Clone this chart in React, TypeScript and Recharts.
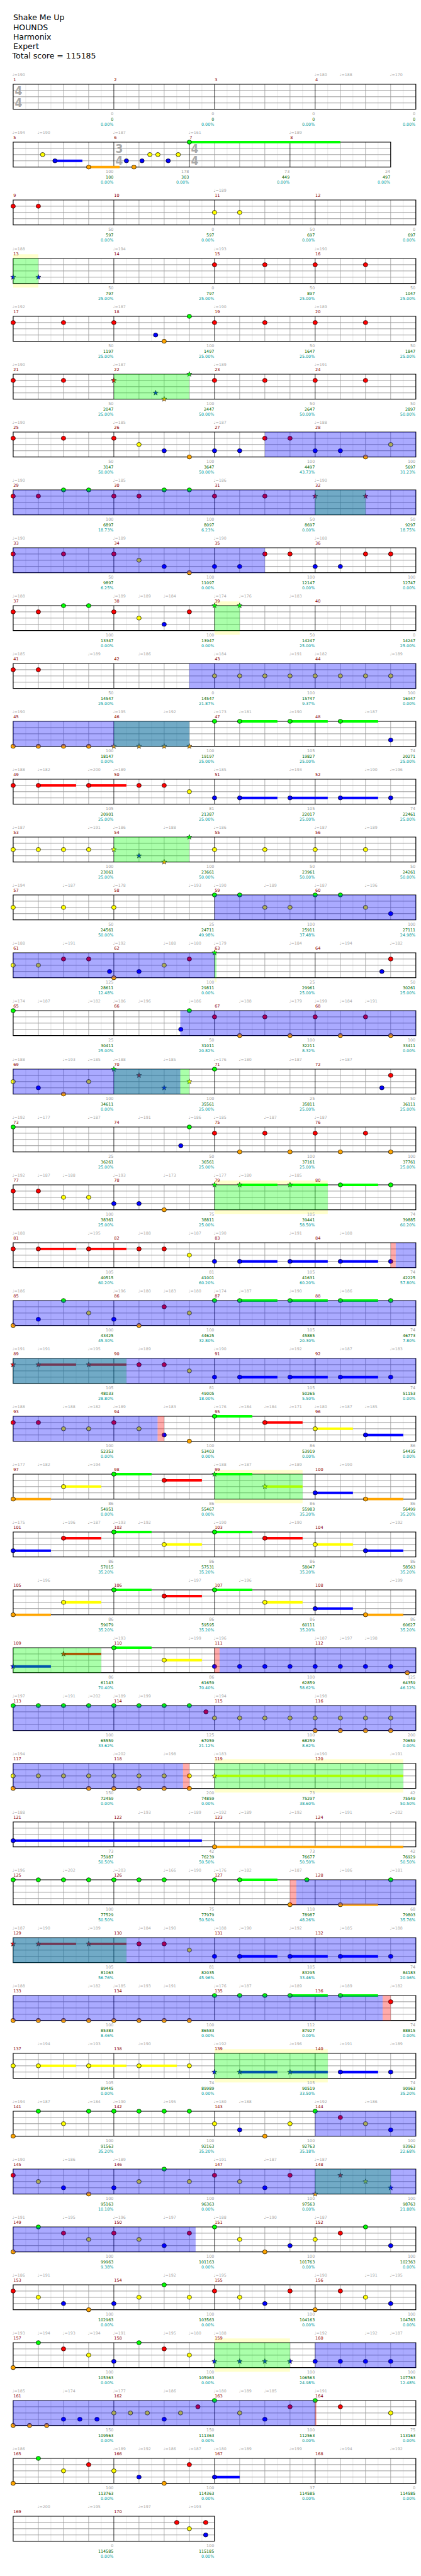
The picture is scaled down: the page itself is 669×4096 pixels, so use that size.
import React from 'react';
import { ScatterChart, Scatter, XAxis, YAxis, ReferenceLine, ReferenceArea } from 'recharts';

// ---------------- DATA ----------------
const titleLines = ['Shake Me Up', 'HOUNDS', 'Harmonix', 'Expert'];
const totalScore = 115185;

const MEASURE_COUNT = 170;
const MEASURES_PER_ROW = 4;
// [measure, beats per measure, beat unit]
const timeSignatures: [number, number, number][] = [[1, 4, 4], [6, 3, 4], [7, 4, 4]];

// lanes: 0 green, 1 red, 2 yellow, 3 blue, 4 orange
const laneColors = ['#00ff00', '#ff0000', '#ffff00', '#0000ff', '#ffa500'];

// [row, beat in row, bpm]
const tempoMarks: [number, number, number][] = [
  [0, 0, 190], [0, 12, 180], [0, 13, 188], [0, 15, 170],
  [1, 0, 194], [1, 1, 190], [1, 4, 187], [1, 7, 161], [1, 11, 189],
  [2, 8, 189],
  [3, 0, 188], [3, 4, 194], [3, 8, 193], [3, 12, 190],
  [4, 0, 192], [4, 4, 187], [4, 8, 190], [4, 12, 189],
  [5, 0, 190], [5, 4, 187], [5, 8, 189], [5, 12, 191],
  [6, 0, 190], [6, 4, 185], [6, 8, 187], [6, 12, 188],
  [7, 0, 190], [7, 4, 185], [7, 8, 186], [7, 12, 190],
  [8, 0, 190], [8, 4, 189], [8, 8, 190], [8, 12, 188],
  [9, 0, 188], [9, 4, 189], [9, 5, 189], [9, 6, 184], [9, 8, 174], [9, 9, 176], [9, 11, 183],
  [10, 0, 185], [10, 3, 189], [10, 5, 186], [10, 8, 184], [10, 11, 191], [10, 12, 182], [10, 15, 189],
  [11, 0, 190], [11, 4, 195], [11, 6, 192], [11, 8, 173], [11, 9, 181], [11, 11, 190], [11, 14, 187],
  [12, 0, 188], [12, 1, 182], [12, 3, 200], [12, 4, 189], [12, 8, 185], [12, 11, 193], [12, 14, 190], [12, 15, 196],
  [13, 0, 187], [13, 3, 191], [13, 4, 186], [13, 6, 188], [13, 8, 186], [13, 12, 187], [13, 14, 189],
  [14, 0, 194], [14, 2, 187], [14, 4, 178], [14, 7, 193], [14, 8, 190], [14, 10, 189], [14, 12, 187], [14, 14, 196],
  [15, 0, 188], [15, 2, 191], [15, 4, 192], [15, 6, 188], [15, 7, 180], [15, 8, 179], [15, 11, 184], [15, 13, 194], [15, 15, 182],
  [16, 0, 174], [16, 1, 187], [16, 3, 182], [16, 4, 186], [16, 5, 196], [16, 7, 186], [16, 9, 188], [16, 11, 179], [16, 12, 199], [16, 13, 184], [16, 14, 191],
  [17, 0, 188], [17, 2, 193], [17, 3, 185], [17, 4, 188], [17, 6, 185], [17, 8, 176], [17, 9, 180], [17, 11, 187], [17, 13, 187],
  [18, 0, 192], [18, 1, 177], [18, 3, 187], [18, 5, 191], [18, 7, 186], [18, 8, 185], [18, 10, 187], [18, 12, 187],
  [19, 0, 192], [19, 1, 187], [19, 2, 188], [19, 4, 193], [19, 6, 173], [19, 8, 177], [19, 9, 180], [19, 11, 185],
  [20, 0, 188], [20, 3, 195], [20, 5, 188], [20, 7, 187], [20, 8, 190], [20, 11, 191], [20, 13, 188],
  [21, 0, 186], [21, 4, 196], [21, 5, 180], [21, 6, 183], [21, 7, 180], [21, 8, 174], [21, 9, 187], [21, 11, 190], [21, 13, 186],
  [22, 0, 191], [22, 1, 191], [22, 3, 195], [22, 5, 189], [22, 8, 190], [22, 11, 192], [22, 13, 187], [22, 15, 183],
  [23, 0, 188], [23, 2, 188], [23, 3, 182], [23, 4, 189], [23, 6, 183], [23, 8, 176], [23, 9, 184], [23, 10, 184], [23, 11, 171], [23, 12, 180], [23, 13, 187], [23, 14, 185],
  [24, 0, 177], [24, 1, 182], [24, 3, 194], [24, 8, 188], [24, 9, 187], [24, 11, 189], [24, 13, 190],
  [25, 0, 175], [25, 2, 196], [25, 3, 187], [25, 4, 193], [25, 5, 192], [25, 8, 190], [25, 11, 190], [25, 15, 192],
  [26, 1, 196], [26, 7, 197], [26, 9, 196], [26, 15, 199],
  [27, 4, 193], [27, 7, 199], [27, 8, 196], [27, 12, 187], [27, 13, 197], [27, 14, 198],
  [28, 0, 197], [28, 2, 191], [28, 3, 202], [28, 4, 189], [28, 5, 199], [28, 8, 194], [28, 12, 198],
  [29, 0, 194], [29, 4, 202], [29, 6, 198], [29, 8, 183], [29, 12, 190], [29, 15, 191],
  [30, 0, 188], [30, 5, 193], [30, 7, 189], [30, 8, 192], [30, 9, 189], [30, 11, 192], [30, 13, 191], [30, 15, 202],
  [31, 0, 196], [31, 2, 202], [31, 4, 203], [31, 6, 166], [31, 7, 190], [31, 8, 176], [31, 9, 182], [31, 11, 187], [31, 13, 186], [31, 15, 181],
  [32, 0, 187], [32, 1, 190], [32, 3, 189], [32, 5, 184], [32, 6, 190], [32, 8, 188], [32, 9, 190], [32, 11, 192], [32, 13, 185], [32, 15, 188],
  [33, 0, 188], [33, 3, 182], [33, 4, 185], [33, 5, 193], [33, 6, 191], [33, 8, 176], [33, 9, 187], [33, 11, 189], [33, 13, 189], [33, 15, 182],
  [34, 1, 194], [34, 3, 193], [34, 5, 190], [34, 8, 192], [34, 11, 196], [34, 13, 191], [34, 15, 189],
  [35, 0, 194], [35, 1, 187], [35, 3, 184], [35, 4, 190], [35, 6, 195], [35, 8, 180], [35, 9, 188], [35, 12, 192], [35, 14, 186],
  [36, 0, 190], [36, 2, 186], [36, 4, 189], [36, 8, 191], [36, 10, 187], [36, 12, 187],
  [37, 0, 191], [37, 2, 195], [37, 4, 196], [37, 6, 197], [37, 8, 188], [37, 10, 190], [37, 12, 187],
  [38, 0, 186], [38, 1, 191], [38, 6, 192], [38, 8, 195], [38, 12, 190], [38, 14, 191], [38, 15, 195],
  [39, 0, 193], [39, 1, 194], [39, 2, 193], [39, 3, 194], [39, 4, 191], [39, 6, 195], [39, 7, 180], [39, 8, 188], [39, 12, 192], [39, 14, 192], [39, 15, 187],
  [40, 0, 185], [40, 2, 174], [40, 4, 177], [40, 6, 186], [40, 8, 180], [40, 9, 189], [40, 10, 185], [40, 12, 191],
  [41, 0, 186], [41, 4, 189], [41, 5, 192], [41, 6, 186], [41, 7, 187], [41, 8, 180], [41, 9, 189], [41, 11, 199], [41, 13, 194], [41, 15, 192],
  [42, 1, 200], [42, 3, 195], [42, 5, 197], [42, 7, 193],
];

// [row, beat in row, lane, sustain end beat (optional)]
const notes: number[][] = [
  [1, 1.17, 2], [1, 1.66, 3, 2.75], [1, 3, 4, 4.23], [1, 4.5, 3], [1, 4.8, 4], [1, 5.12, 3], [1, 5.43, 2], [1, 5.75, 2], [1, 6.16, 3], [1, 6.56, 2], [1, 7, 0, 13],
  [2, 0, 1], [2, 1, 1], [2, 8, 2], [2, 9, 2],
  [3, 0, 3], [3, 1, 3], [3, 8, 1], [3, 10, 1], [3, 12, 1], [3, 14, 1],
  [4, 0, 1], [4, 2, 1], [4, 4, 1], [4, 5.66, 3], [4, 6, 4], [4, 7, 0], [4, 8, 1], [4, 10, 1], [4, 12, 1], [4, 14, 1],
  [5, 0, 1], [5, 2, 1], [5, 4, 1], [5, 5.66, 3], [5, 6, 4], [5, 7, 0], [5, 8, 1], [5, 10, 1], [5, 12, 1], [5, 14, 1],
  [6, 0, 1], [6, 2, 1], [6, 4, 1], [6, 5, 2], [6, 6, 3], [6, 7, 4], [6, 8, 3], [6, 9, 3], [6, 10, 1], [6, 11, 1], [6, 12, 3], [6, 13, 3], [6, 14, 4], [6, 15, 2],
  [7, 0, 1], [7, 1, 1], [7, 2, 0], [7, 3, 0], [7, 4, 1], [7, 5, 1], [7, 6, 0], [7, 7, 0], [7, 8, 1], [7, 10, 1], [7, 12, 1], [7, 14, 1],
  [8, 0, 1], [8, 2, 1], [8, 4, 1], [8, 5, 2], [8, 6, 3], [8, 7, 4], [8, 8, 3], [8, 9, 3], [8, 10, 1], [8, 11, 1], [8, 12, 3], [8, 13, 3], [8, 14, 1], [8, 15, 1],
  [9, 0, 1], [9, 1, 1], [9, 2, 0], [9, 3, 0], [9, 4, 1], [9, 5, 2], [9, 6, 3], [9, 7, 1], [9, 8, 0], [9, 9, 0],
  [10, 0, 1], [10, 1, 1], [10, 8, 2], [10, 9, 2], [10, 10, 2], [10, 11, 2], [10, 12, 2], [10, 13, 2], [10, 14, 2], [10, 15, 2],
  [11, 0, 4], [11, 1, 4], [11, 2, 4], [11, 3, 4], [11, 4, 4], [11, 5, 4], [11, 6, 4], [11, 7, 4], [11, 8, 0], [11, 9, 0, 10.5], [11, 11, 0, 12.5], [11, 13, 0, 14.5], [11, 15, 3],
  [12, 0, 1], [12, 1, 1, 2.5], [12, 3, 1, 4.5], [12, 5, 1], [12, 6, 1], [12, 7, 2], [12, 8, 3], [12, 9, 3, 10.5], [12, 11, 3, 12.5], [12, 13, 3, 14.5], [12, 15, 3],
  [13, 0, 2], [13, 1, 2], [13, 2, 2], [13, 3, 2], [13, 4, 2], [13, 5, 3], [13, 6, 4], [13, 7, 0], [13, 8, 2], [13, 10, 2], [13, 12, 2], [13, 14, 2],
  [14, 0, 2], [14, 2, 2], [14, 4, 2], [14, 8, 0], [14, 9, 0], [14, 10, 2], [14, 11, 2], [14, 12, 0], [14, 13, 0], [14, 14, 2], [14, 15, 3],
  [15, 0, 2], [15, 1, 2], [15, 2, 1], [15, 3, 1], [15, 3.83, 3], [15, 4, 4], [15, 5, 3], [15, 6, 2], [15, 7, 1], [15, 8, 0], [15, 14.65, 3], [15, 15, 1],
  [16, 0, 0], [16, 6.66, 3], [16, 7, 0], [16, 8, 1], [16, 9, 4], [16, 10, 1], [16, 11, 4], [16, 12, 1], [16, 13, 4], [16, 14, 1], [16, 15, 4],
  [17, 0, 2], [17, 1, 3], [17, 2, 4], [17, 3, 2], [17, 4, 0], [17, 5, 1], [17, 6, 3], [17, 7, 2], [17, 8, 0], [17, 14.65, 3], [17, 15, 1],
  [18, 0, 0], [18, 6.66, 3], [18, 7, 0], [18, 8, 1], [18, 9, 4], [18, 10, 1], [18, 11, 4], [18, 12, 1], [18, 13, 4], [18, 14, 1], [18, 15, 4],
  [19, 0, 1], [19, 1, 1], [19, 2, 2], [19, 3, 2], [19, 4, 3], [19, 5, 3], [19, 6, 4], [19, 8, 0], [19, 9, 0, 10.5], [19, 11, 0, 12.5], [19, 13, 0, 14.5], [19, 15, 0],
  [20, 0, 1], [20, 1, 1, 2.5], [20, 3, 1, 4.5], [20, 5, 1], [20, 6, 1], [20, 7, 2], [20, 8, 3], [20, 9, 3, 10.5], [20, 11, 3, 12.5], [20, 13, 3, 14.5], [20, 15, 3],
  [21, 0, 4], [21, 1, 3], [21, 2, 0], [21, 3, 2], [21, 4, 3], [21, 5, 4], [21, 6, 1], [21, 7, 2], [21, 8, 0], [21, 9, 0, 10.5], [21, 11, 0, 12.5], [21, 13, 0, 14.5], [21, 15, 0],
  [22, 0, 1], [22, 1, 1, 2.5], [22, 3, 1, 4.5], [22, 5, 1], [22, 6, 1], [22, 7, 2], [22, 8, 3], [22, 9, 3, 10.5], [22, 11, 3, 12.5], [22, 13, 3, 14.5], [22, 15, 3],
  [23, 0, 1], [23, 1, 1], [23, 2, 2], [23, 3, 2], [23, 4, 1], [23, 5, 2], [23, 6, 3], [23, 7, 4], [23, 8, 0, 9.5], [23, 10, 1, 11.5], [23, 12, 2, 13.5], [23, 14, 3, 15.5],
  [24, 0, 4, 1.5], [24, 2, 2, 3.5], [24, 4, 0, 5.5], [24, 6, 1, 7.5], [24, 8, 0, 9.5], [24, 10, 2, 11.5], [24, 12, 3, 13.5], [24, 14, 4, 15.5],
  [25, 0, 3, 1.5], [25, 2, 1, 3.5], [25, 4, 0, 5.5], [25, 6, 2, 7.5], [25, 8, 0, 9.5], [25, 10, 1, 11.5], [25, 12, 2, 13.5], [25, 14, 3, 15.5],
  [26, 0, 4, 1.5], [26, 2, 2, 3.5], [26, 4, 0, 5.5], [26, 6, 1, 7.5], [26, 8, 0, 9.5], [26, 10, 2, 11.5], [26, 12, 3, 13.5], [26, 14, 4, 15.5],
  [27, 0, 3, 1.5], [27, 2, 1, 3.5], [27, 4, 0, 5.5], [27, 6, 2, 7.5], [27, 8, 3], [27, 9, 3], [27, 10, 3], [27, 11, 3], [27, 12, 3], [27, 13, 3], [27, 14, 3], [27, 15, 3], [27, 15.66, 4],
  [28, 0, 0], [28, 1, 0], [28, 2, 0], [28, 3, 0], [28, 4, 0], [28, 5, 0], [28, 6, 0], [28, 7, 0], [28, 7.66, 1],
  [28, 8, 2], [28, 9, 2], [28, 10, 2], [28, 11, 2], [28, 12, 2], [28, 13, 2], [28, 14, 2], [28, 15, 2], [28, 12, 4], [28, 13, 4], [28, 14, 4], [28, 15, 4],
  [29, 0, 2], [29, 1, 2], [29, 2, 2], [29, 3, 2], [29, 4, 2], [29, 5, 2], [29, 6, 2], [29, 7, 2],
  [29, 0, 4], [29, 3, 4], [29, 4, 4], [29, 5, 4], [29, 6, 4], [29, 7, 4], [29, 8, 2, 15.5],
  [30, 0, 3, 7.5], [30, 8, 4, 15.5],
  [31, 0, 0], [31, 1, 0], [31, 2, 0], [31, 3, 0], [31, 4, 0], [31, 5, 0], [31, 6, 0], [31, 8, 0], [31, 9, 0, 10.5], [31, 11, 4], [31, 11.67, 0], [31, 13, 4, 14.5], [31, 15, 0],
  [32, 0, 1], [32, 1, 1, 2.5], [32, 3, 1, 4.5], [32, 5, 1], [32, 6, 1], [32, 7, 2], [32, 8, 3], [32, 9, 3, 10.5], [32, 11, 3, 12.5], [32, 13, 3, 14.5], [32, 15, 3],
  [33, 0, 4], [33, 1, 4], [33, 2, 4], [33, 3, 4], [33, 4, 4], [33, 5, 4], [33, 6, 4], [33, 7, 4], [33, 8, 0], [33, 9, 0], [33, 10, 0], [33, 11, 0, 12.5], [33, 13, 0, 14.5], [33, 15, 1],
  [34, 0, 2], [34, 1, 2, 2.5], [34, 3, 2, 4.5], [34, 5, 2, 6.5], [34, 7, 2], [34, 8, 3], [34, 9, 3, 10.5], [34, 11, 3, 12.5], [34, 13, 3, 14.5], [34, 15, 3],
  [35, 0, 4], [35, 1, 0], [35, 2, 2], [35, 3, 0], [35, 4, 0], [35, 5, 0], [35, 6, 0], [35, 7, 0], [35, 8, 2], [35, 9, 3], [35, 10, 4], [35, 11, 2], [35, 12, 0], [35, 13, 1], [35, 14, 2], [35, 15, 3],
  [36, 0, 1], [36, 1, 2], [36, 2, 3], [36, 3, 4], [36, 4, 3], [36, 5, 2], [36, 6, 0], [36, 7, 2], [36, 8, 1], [36, 9, 2], [36, 10, 3], [36, 11, 1], [36, 12, 4], [36, 13, 1], [36, 14, 2], [36, 15, 3],
  [37, 0, 4], [37, 1, 0], [37, 2, 1], [37, 3, 2], [37, 4, 1], [37, 5, 2], [37, 6, 3], [37, 7, 1], [37, 8, 0], [37, 9, 2], [37, 10, 4], [37, 11, 3], [37, 12, 2], [37, 13, 1], [37, 14, 0], [37, 15, 3],
  [38, 0, 1], [38, 1, 2], [38, 2, 3], [38, 3, 4], [38, 4, 3], [38, 5, 2], [38, 6, 0], [38, 7, 2], [38, 8, 1], [38, 9, 2], [38, 10, 3], [38, 11, 1], [38, 12, 4], [38, 13, 1], [38, 14, 2], [38, 15, 3],
  [39, 0, 4], [39, 1, 0], [39, 2, 1], [39, 3, 2], [39, 4, 3], [39, 5, 0], [39, 6, 1], [39, 7, 2], [39, 8, 3], [39, 9, 3], [39, 10, 3], [39, 11, 3], [39, 12, 3], [39, 13, 3], [39, 14, 3], [39, 15, 3],
  [40, 0, 4], [40, 0.65, 4], [40, 1.33, 4], [40, 2, 3], [40, 2.65, 3], [40, 3.33, 3], [40, 4, 2], [40, 4.66, 2], [40, 5.33, 2], [40, 6, 3], [40, 6.65, 2], [40, 7.34, 1], [40, 8, 0], [40, 9, 2], [40, 10, 3], [40, 11, 1], [40, 12, 0], [40, 13, 1], [40, 15, 2],
  [41, 0, 4], [41, 1, 0], [41, 2, 2], [41, 3, 1], [41, 4, 2], [41, 5, 3], [41, 6, 4], [41, 7, 1], [41, 8, 3, 9],
  [42, 6.5, 1], [42, 7, 2], [42, 7.65, 1], [42, 7.65, 3],
];

// star power phrases: [row, start beat, end beat, highlighted band]
const starPhrases: [number, number, number, number][] = [
  [3, 0, 1, 1], [5, 4, 7, 0], [7, 12, 14, 0], [9, 8, 9, 1], [11, 4, 7, 0], [13, 4, 7, 0], [15, 8, 8.08, 1],
  [17, 4, 7, 0], [19, 8, 12.5, 1], [22, 0, 4.5, 0], [24, 8, 11.5, 1], [27, 0, 3.5, 0], [29, 8, 15.5, 1],
  [32, 0, 4.5, 0], [34, 8, 12.5, 1], [36, 12, 15, 0], [39, 8, 11, 1],
];

// overdrive zones: [row, start beat, end beat]
const overdriveZones: [number, number, number][] = [
  [6, 10, 16], [7, 0, 16], [8, 0, 10], [10, 7, 16], [11, 0, 7], [14, 8, 16], [15, 0, 8], [16, 6.64, 16],
  [17, 0, 6.64], [20, 15.2, 16], [21, 0, 16], [22, 0, 16], [23, 0, 5.74], [27, 8.2, 16], [28, 0, 16],
  [29, 0, 6.75], [31, 11.25, 16], [32, 0, 16], [33, 0, 14.68], [35, 12, 16], [36, 0, 16], [37, 0, 7.25],
  [39, 12, 16], [40, 0, 12],
];

// activation / gap zones: [row, start beat, end beat]
const gapZones: [number, number, number][] = [
  [20, 15, 15.2], [23, 5.74, 6], [27, 8, 8.2], [29, 6.75, 7], [31, 11, 11.25], [33, 14.68, 15], [40, 12, 12.05],
];

const measureGain: number[] = [
  0, 0, 0, 0, 100, 178, 73, 24, 50, 0, 50, 0, 50, 0, 50, 50,
  50, 100, 50, 50, 50, 100, 50, 50, 50, 100, 100, 100, 100, 100, 50, 50,
  50, 100, 100, 100, 100, 100, 50, 0, 50, 0, 100, 100, 100, 100, 105, 74,
  105, 81, 105, 74, 100, 100, 50, 50, 50, 25, 100, 100, 125, 100, 25, 50,
  25, 50, 100, 100, 100, 100, 25, 50, 25, 50, 100, 100, 100, 75, 105, 74,
  105, 81, 105, 74, 100, 100, 105, 74, 105, 81, 105, 74, 100, 100, 86, 86,
  86, 86, 86, 86, 86, 86, 86, 86, 86, 86, 86, 86, 86, 86, 100, 125,
  100, 125, 100, 200, 150, 200, 73, 42, 73, 42, 73, 42, 100, 75, 118, 68,
  105, 81, 105, 74, 100, 100, 112, 74, 105, 74, 105, 74, 100, 100, 100, 100,
  100, 100, 100, 100, 100, 100, 100, 100, 100, 100, 100, 100, 100, 100, 100, 100,
  150, 150, 100, 75, 100, 100, 37, 0, 0, 100,
];

const measureTotal: number[] = [
  0, 0, 0, 0, 100, 303, 449, 497, 597, 597, 697, 697, 797, 797, 897, 1047,
  1197, 1497, 1647, 1847, 2047, 2447, 2647, 2897, 3147, 3647, 4497, 5697, 6897, 8097, 8697, 9297,
  9897, 11097, 12147, 12747, 13347, 13947, 14247, 14247, 14547, 14547, 15747, 16947, 18147, 19197, 19827, 20271,
  20901, 21387, 22017, 22461, 23061, 23661, 23961, 24261, 24561, 24711, 25911, 27111, 28611, 29811, 29961, 30261,
  30411, 31011, 32211, 33411, 34611, 35561, 35811, 36111, 36261, 36561, 37161, 37761, 38361, 38811, 39441, 39885,
  40515, 41001, 41631, 42225, 43425, 44625, 45885, 46773, 48033, 49005, 50265, 51153, 52353, 53403, 53919, 54435,
  54951, 55467, 55983, 56499, 57015, 57531, 58047, 58563, 59079, 59595, 60111, 60627, 61143, 61659, 62859, 64359,
  65559, 67059, 68259, 70659, 72459, 74859, 75297, 75549, 75987, 76239, 76677, 76929, 77529, 77979, 78987, 79803,
  81063, 82035, 83295, 84183, 85383, 86583, 87927, 88815, 89445, 89989, 90519, 90963, 91563, 92163, 92763, 93963,
  95163, 96363, 97563, 98763, 99963, 101163, 101763, 102363, 102963, 103563, 104163, 104763, 105363, 105963, 106563, 107763,
  109563, 111363, 112563, 113163, 113763, 114363, 114585, 114585, 114585, 115185,
];

const measurePct: number[] = [
  0, 0, 0, 0, 0, 0, 0, 0, 0, 0, 0, 0, 25, 25, 25, 25,
  25, 25, 25, 25, 25, 50, 50, 50, 50, 50, 43.73, 31.23, 18.73, 6.23, 0, 18.75,
  6.25, 0, 0, 0, 0, 0, 25, 25, 25, 21.87, 9.37, 0, 0, 25, 25, 25,
  25, 25, 25, 25, 25, 50, 50, 50, 50, 49.98, 37.48, 24.98, 12.48, 0, 25, 25,
  25, 20.82, 8.32, 0, 0, 25, 25, 25, 25, 25, 25, 25, 25, 25, 58.5, 60.2,
  60.2, 60.2, 60.2, 57.8, 45.3, 32.8, 20.3, 7.8, 28.8, 18, 5.5, 0, 0, 0, 0, 0,
  0, 0, 35.2, 35.2, 35.2, 35.2, 35.2, 35.2, 35.2, 35.2, 35.2, 35.2, 70.4, 70.4, 58.62, 46.12,
  33.62, 21.12, 8.62, 0, 0, 0, 38.6, 50.5, 50.5, 50.5, 50.5, 50.5, 50.5, 50.5, 48.26, 35.76,
  56.76, 45.96, 33.46, 20.96, 8.46, 0, 0, 0, 0, 0, 33.5, 35.2, 35.2, 35.2, 35.18, 22.68,
  10.18, 0, 0, 21.88, 9.38, 0, 0, 0, 0, 0, 0, 0, 0, 0, 24.98, 12.48,
  0, 0, 0, 0, 0, 0, 0, 0, 0, 0,
];

// ---------------- LAYOUT (styling) ----------------
const S = 0.653;
const FONT = '"DejaVu Sans", Verdana, sans-serif';
const PPB = 61.25 * S; // pixels per beat
const STAFF_LEFT = 32 * S;
const STAFF_H = 60.7 * S;
const ROW_TOP0 = 205.7 * S;
const ROW_PITCH = 141 * S;
const MT = 24;
const MB = 34;
const MR = 12;

const measureBeats = Array.from({ length: MEASURE_COUNT }, (_, i) => {
  let b = 4;
  for (const [m, n] of timeSignatures) if (m <= i + 1) b = n;
  return b;
});

const rowCount = Math.ceil(MEASURE_COUNT / MEASURES_PER_ROW);
const rowsInfo = Array.from({ length: rowCount }, (_, r) => {
  const ms: { m: number; start: number; len: number }[] = [];
  let beat = 0;
  for (let m = r * MEASURES_PER_ROW + 1; m <= Math.min((r + 1) * MEASURES_PER_ROW, MEASURE_COUNT); m++) {
    ms.push({ m, start: beat, len: measureBeats[m - 1] });
    beat += measureBeats[m - 1];
  }
  return { ms, beats: beat };
});

const starPoints = (cx: number, cy: number, R: number, r: number) => {
  const pts: string[] = [];
  for (let i = 0; i < 10; i++) {
    const a = -Math.PI / 2 + (i * Math.PI) / 5;
    const rad = i % 2 === 0 ? R : r;
    pts.push(`${(cx + rad * Math.cos(a)).toFixed(2)},${(cy + rad * Math.sin(a)).toFixed(2)}`);
  }
  return pts.join(' ');
};

const NoteShape = (p: any) => {
  const { cx, cy, payload } = p;
  const fill = laneColors[payload.lane];
  if (payload.star) {
    return <polygon points={starPoints(cx, cy, 4.3, 1.8)} fill={fill} stroke="#1a1a1a" strokeWidth={0.6} />;
  }
  return <ellipse cx={cx} cy={cy} rx={3.5} ry={3.3} fill={fill} stroke="#000" strokeWidth={0.7} />;
};

const MeasureLabel = (p: any) => (
  <text x={p.cx + 0.3} y={p.cy - 4.7} fontSize={6.6} fill="#8b0000" fontFamily={FONT}>
    {p.payload.label}
  </text>
);

const TempoLabel = (p: any) => (
  <text x={p.cx - 1.3} y={p.cy - 13.3} fontSize={6.3} fill="#a8a8a8" fontFamily={FONT}>
    {'\u2669=' + p.payload.bpm}
  </text>
);

const ScoreLabel = (p: any) => (
  <g fontFamily={FONT} fontSize={6.4} textAnchor="end">
    <text x={p.cx - 0.6} y={p.cy + 9.6} fill="#a0a0a0">{p.payload.gain}</text>
    <text x={p.cx - 0.6} y={p.cy + 18.3} fill="#006400">{p.payload.total}</text>
    <text x={p.cx - 0.6} y={p.cy + 26.8} fill="#009999">{p.payload.pct.toFixed(2) + '%'}</text>
  </g>
);

const TimeSigLabel = (p: any) => (
  <g fontFamily='"DejaVu Sans Condensed", "DejaVu Sans", sans-serif' fontSize={19} fontWeight="bold" fill="#aaaaaa">
    <text x={p.cx + 2.6} y={p.cy + 17.4}>{p.payload.num}</text>
    <text x={p.cx + 2.6} y={p.cy + 36.4}>{p.payload.den}</text>
  </g>
);

function StaffRow({ r }: { r: number }) {
  const info = rowsInfo[r];
  const beats = info.beats;
  const width = STAFF_LEFT + beats * PPB + MR;
  const height = MT + STAFF_H + MB;

  const eighthLines: number[] = [];
  const beatLines: number[] = [];
  const measureLines: number[] = [];
  info.ms.forEach(({ start, len }) => {
    for (let k = 0; k < len; k++) {
      eighthLines.push(start + k + 0.5);
      if (k > 0) beatLines.push(start + k);
    }
    if (start > 0) measureLines.push(start);
  });

  const phrases = starPhrases.filter((p) => p[0] === r);
  const rowNotes = notes
    .filter((n) => n[0] === r)
    .map((n) => ({
      x: n[1],
      y: n[2],
      lane: n[2],
      end: n[3],
      star: phrases.some((p) => n[1] >= p[1] - 0.02 && n[1] <= p[2] + 0.02),
    }));
  const sustains = rowNotes.filter((n) => n.end !== undefined);
  const odz = overdriveZones.filter((z) => z[0] === r);
  const gaps = gapZones.filter((z) => z[0] === r);

  const measureData = info.ms.map(({ m, start }) => ({ x: start, y: 0, label: m }));
  const tempoData = tempoMarks.filter((t) => t[0] === r).map((t) => ({ x: t[1], y: 0, bpm: t[2] }));
  const scoreData = info.ms.map(({ m, start, len }) => ({
    x: start + len,
    y: 4,
    gain: measureGain[m - 1],
    total: measureTotal[m - 1],
    pct: measurePct[m - 1],
  }));
  const tsData = info.ms
    .filter(({ m }) => timeSignatures.some((t) => t[0] === m))
    .map(({ m, start }) => {
      const t = timeSignatures.find((q) => q[0] === m)!;
      return { x: start, y: 0, num: t[1], den: t[2] };
    });

  return (
    <div style={{ position: 'absolute', left: 0, top: ROW_TOP0 + r * ROW_PITCH - MT }}>
      <ScatterChart width={width} height={height} margin={{ top: MT, right: MR, bottom: MB, left: STAFF_LEFT }}>
        <XAxis type="number" dataKey="x" domain={[0, beats]} hide />
        <YAxis type="number" dataKey="y" domain={[0, 4]} reversed hide />
        {phrases.filter((p) => p[3] === 1).map((p, i) => (
          <ReferenceArea key={'band' + i} x1={p[1]} x2={p[2]} y1={-0.68} y2={4.68} fill="#ffffcc" fillOpacity={1} stroke="none" ifOverflow="visible" zIndex={10} />
        ))}
        <ReferenceArea x1={0} x2={beats} y1={0} y2={4} fill="#ffffff" fillOpacity={1} stroke="none" ifOverflow="visible" zIndex={20} />
        {eighthLines.map((x) => (
          <ReferenceLine key={'e' + x} x={x} stroke="#dedede" strokeWidth={0.7} zIndex={30} />
        ))}
        {beatLines.map((x) => (
          <ReferenceLine key={'b' + x} x={x} stroke="#9a9a9a" strokeWidth={0.8} zIndex={40} />
        ))}
        {[1, 2, 3].map((y) => (
          <ReferenceLine key={'l' + y} y={y} stroke="#9a9a9a" strokeWidth={1} zIndex={50} />
        ))}
        {measureLines.map((x) => (
          <ReferenceLine key={'m' + x} x={x} stroke="#000000" strokeWidth={0.8} zIndex={60} />
        ))}
        <ReferenceArea x1={0} x2={beats} y1={0} y2={4} fill="none" fillOpacity={0} stroke="#000000" strokeWidth={1.2} ifOverflow="visible" zIndex={70} />
        {sustains.map((n, i) => (
          <ReferenceLine
            key={'s' + i}
            segment={[{ x: n.x, y: n.y }, { x: n.end as number, y: n.y }]}
            stroke={laneColors[n.lane]}
            strokeWidth={3.9}
            ifOverflow="visible"
            zIndex={80}
          />
        ))}
        <Scatter data={rowNotes} shape={NoteShape} isAnimationActive={false} zIndex={90} />
        {phrases.map((p, i) => (
          <ReferenceArea key={'sp' + i} x1={p[1]} x2={p[2]} y1={0} y2={4} fill="#00ff00" fillOpacity={0.333} stroke="none" ifOverflow="visible" zIndex={100} />
        ))}
        {odz.map((z, i) => (
          <ReferenceArea key={'od' + i} x1={z[1]} x2={z[2]} y1={0} y2={4} fill="#0000ff" fillOpacity={0.333} stroke="none" ifOverflow="visible" zIndex={110} />
        ))}
        {gaps.map((z, i) => (
          <ReferenceArea key={'gp' + i} x1={z[1]} x2={z[2]} y1={0} y2={4} fill="#ff0000" fillOpacity={0.333} stroke="none" ifOverflow="visible" zIndex={120} />
        ))}
        <Scatter data={tsData} shape={TimeSigLabel} isAnimationActive={false} zIndex={130} />
        <Scatter data={measureData} shape={MeasureLabel} isAnimationActive={false} zIndex={140} />
        <Scatter data={tempoData} shape={TempoLabel} isAnimationActive={false} zIndex={140} />
        <Scatter data={scoreData} shape={ScoreLabel} isAnimationActive={false} zIndex={140} />
      </ScatterChart>
    </div>
  );
}

export default function App() {
  const lineY = [32.2, 47.5, 62.7, 77.9];
  return (
    <div style={{ position: 'absolute', left: 0, top: 0, width: 669, height: 4096, background: '#ffffff' }}>
      <svg width={669} height={110} style={{ position: 'absolute', left: 0, top: 0 }}>
        {titleLines.map((t, i) => (
          <text key={t} x={20.9} y={lineY[i]} fontSize={12.5} fontFamily={FONT} fill="#000">
            {t}
          </text>
        ))}
        <text x={19.6} y={93.2} fontSize={12.5} fontFamily={FONT} fill="#000">
          {'Total score = ' + totalScore}
        </text>
      </svg>
      {rowsInfo.map((_, r) => (
        <StaffRow key={r} r={r} />
      ))}
    </div>
  );
}
